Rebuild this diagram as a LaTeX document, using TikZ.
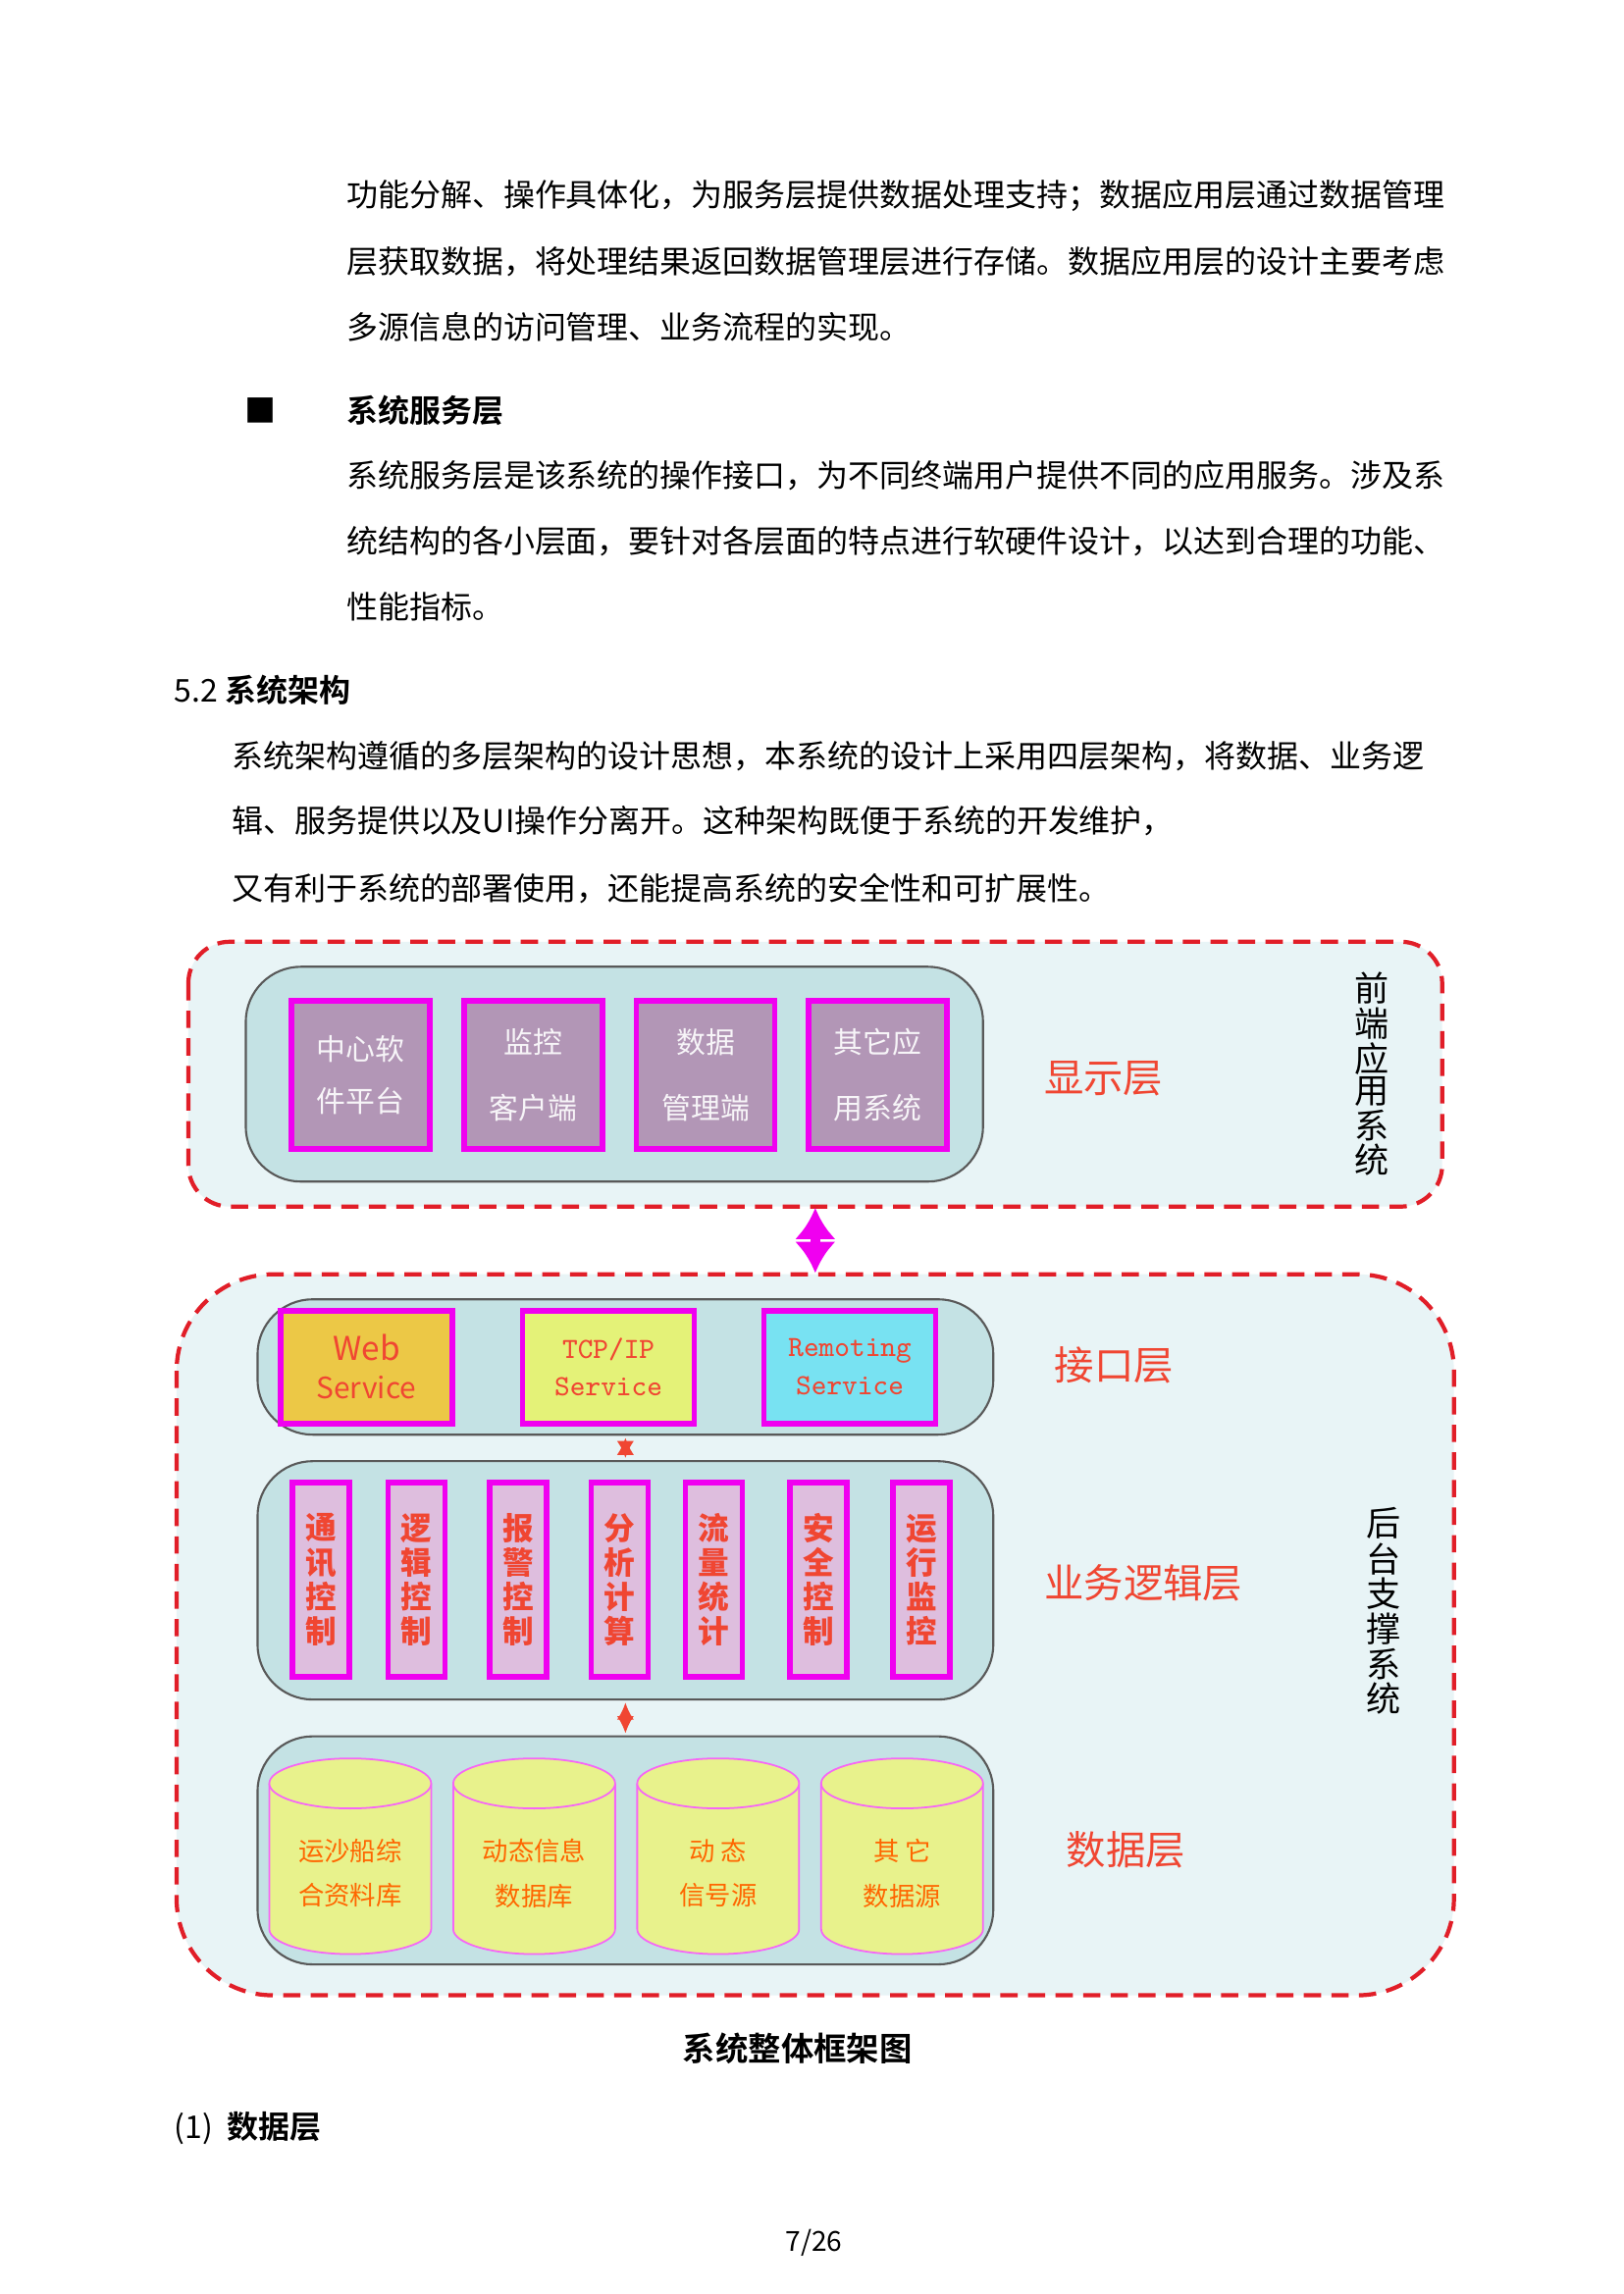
\documentclass[tikz,border=0pt]{standalone}
\usepackage{fontspec}
\setmainfont{Noto Sans CJK SC}
\newfontfamily\cjkfont{Noto Sans CJK SC}
\newfontfamily\cjkbold{Noto Sans CJK SC Bold}
\usetikzlibrary{arrows.meta,shapes.geometric}
\definecolor{bgblue}{RGB}{232,244,246}
\definecolor{innerbox}{RGB}{196,226,228}
\definecolor{purp}{RGB}{178,150,182}
\definecolor{mag}{RGB}{240,0,240}
\definecolor{lblred}{RGB}{240,70,50}
\definecolor{dashred}{RGB}{225,30,40}
\definecolor{pinkbox}{RGB}{222,190,222}
\definecolor{cylfill}{RGB}{232,242,140}
\definecolor{webc}{RGB}{236,200,70}
\definecolor{tcpc}{RGB}{228,242,120}
\definecolor{remc}{RGB}{120,226,242}
\tikzset{
 body/.style={anchor=west,font=\fontsize{9.1pt}{11pt}\selectfont,inner sep=0},
 outer/.style={draw=dashred,dashed,line width=1.2pt,fill=bgblue,dash pattern=on 5pt off 3pt},
 inner/.style={draw=gray!70!black,fill=innerbox,rounded corners=16pt,line width=0.6pt},
 pbox/.style={draw=mag,fill=purp,line width=1.6pt,minimum width=14.1mm,minimum height=15.1mm,text=white!90!purp,align=center,font=\fontsize{8.5pt}{15pt}\selectfont},
 ibox/.style={draw=mag,line width=1.6pt,minimum width=17.5mm,minimum height=11.5mm,text=lblred,align=center,font=\fontsize{8.5pt}{11pt}\selectfont},
 lbox/.style={draw=mag,fill=pinkbox,line width=1.6pt,minimum width=5.8mm,minimum height=19.8mm,text=lblred,align=center,font=\fontsize{9pt}{10pt}\selectfont\bfseries},
 lyr/.style={text=lblred,font=\fontsize{11.5pt}{13pt}\selectfont},
 vert/.style={align=center,font=\fontsize{10pt}{9pt}\selectfont},
 cyltxt/.style={text=orange!80!red,align=center,font=\fontsize{7.5pt}{13pt}\selectfont},
 dbl/.style={{Latex[length=5pt,width=5pt]}-{Latex[length=5pt,width=5pt]},lblred,line width=0.8pt}
}
\begin{document}
\begin{tikzpicture}[x=0.15mm,y=-0.15mm]
\useasboundingbox (0,0) rectangle (1103,1559);
\fill[white] (0,0) rectangle (1103,1559);
% body text
\node[body] (t1) at (235,133) {功能分解、操作具体化，为服务层提供数据处理支持；数据应用层通过数据管理};
\node[body] (t2) at (235,178) {层获取数据，将处理结果返回数据管理层进行存储。数据应用层的设计主要考虑};
\node[body] (t3) at (235,222) {多源信息的访问管理、业务流程的实现。};
\node[body] (b1) at (166,279) {■};
\node[body] (t4) at (235,279) {\cjkbold 系统服务层};
\node[body] (t5) at (235,323) {系统服务层是该系统的操作接口，为不同终端用户提供不同的应用服务。涉及系};
\node[body] (t6) at (235,368) {统结构的各小层面，要针对各层面的特点进行软硬件设计，以达到合理的功能、};
\node[body] (t7) at (235,412) {性能指标。};
\node[body] (h1) at (118,469) {5.2 \cjkbold 系统架构};
\node[body] (t8) at (157,514) {系统架构遵循的多层架构的设计思想，本系统的设计上采用四层架构，将数据、业务逻};
\node[body] (t9) at (157,558) {辑、服务提供以及UI操作分离开。这种架构既便于系统的开发维护，};
\node[body] (t10) at (157,604) {又有利于系统的部署使用，还能提高系统的安全性和可扩展性。};
% front box
\draw[outer,rounded corners=12pt] (128,640) rectangle (980,820);
\draw[inner] (167,657) rectangle (668,803);
\node[pbox] (p1) at (245,730.5) {中心软\\件平台};
\node[pbox] (p2) at (362.5,730.5) {监控\\[4pt]客户端};
\node[pbox] (p3) at (479.5,730.5) {数据\\[4pt]管理端};
\node[pbox] (p4) at (596.5,730.5) {其它应\\[4pt]用系统};
\node[lyr] (l1) at (750,733) {显示层};
\node[vert] (v1) at (932,730) {前\\端\\应\\用\\系\\统};
% back box
\draw[outer,rounded corners=28pt] (120,866) rectangle (988,1356);
\coordinate (ftop) at (554,821);
\coordinate (fbot) at (554,865);
\draw[{Latex[length=9pt,width=12pt]}-{Latex[length=9pt,width=12pt]},mag,line width=3pt] (ftop) -- (fbot);
% interface layer
\draw[inner] (175,883) rectangle (675,975);
\node[ibox,fill=webc] (w) at (249,929) {\fontsize{9.5pt}{11pt}\selectfont Web\\Service};
\node[ibox,fill=tcpc] (tcp) at (413.5,929) {\ttfamily TCP/IP\\\ttfamily Service};
\node[ibox,fill=remc] (rem) at (577.5,929) {\ttfamily Remoting\\\ttfamily Service};
\node[lyr] (l2) at (757,928) {接口层};
% logic layer
\draw[inner] (175,993) rectangle (675,1155);
\foreach \x/\t [count=\i] in {218/通\\讯\\控\\制,283/逻\\辑\\控\\制,352/报\\警\\控\\制,421/分\\析\\计\\算,485/流\\量\\统\\计,556/安\\全\\控\\制,626/运\\行\\监\\控}
  \node[lbox] (g\i) at (\x,1073.5) {\t};
\node[lyr] (l3) at (777,1076) {业务逻辑层};
\node[vert] (v2) at (940,1095) {后\\台\\支\\撑\\系\\统};
\coordinate (a1) at (425,977); \coordinate (a2) at (425,991);
\draw[dbl] (a1) -- (a2);
\coordinate (a3) at (425,1157); \coordinate (a4) at (425,1178);
\draw[dbl] (a3) -- (a4);
% data layer
\draw[inner] (175,1180) rectangle (675,1335);
\foreach \x/\t [count=\i] in {238/运沙船综\\合资料库,363/动态信息\\数据库,488/动 态\\信号源,613/其 它\\数据源}{
  \draw[draw=mag!60,fill=cylfill,line width=0.5pt] (\x-55,1212) -- (\x-55,1311) arc[start angle=180,end angle=0,x radius=55,y radius=17] -- (\x+55,1212);
  \draw[draw=mag!60,fill=cylfill,line width=0.5pt] (\x,1212) ellipse[x radius=55,y radius=17];
  \node[cyltxt] (c\i) at (\x,1273) {\t};
}
\node[lyr] (l4) at (765,1257) {数据层};
% caption etc
\node[font=\fontsize{9.5pt}{12pt}\selectfont\cjkbold] (cap) at (542,1392) {系统整体框架图};
\node[body] (s1) at (118,1446) {(1)\ \ \cjkbold 数据层};
\node[font=\fontsize{8pt}{10pt}\selectfont] (pg) at (553,1524) {7/26};
\end{tikzpicture}
\end{document}
